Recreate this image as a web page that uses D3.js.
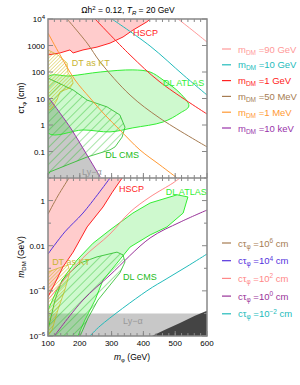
<!DOCTYPE html>
<html>
<head>
<meta charset="utf-8">
<script src="https://cdn.jsdelivr.net/npm/d3@7"></script>
<style>
body { margin: 0; background: #fff; }
svg { display: block; font-family: "Liberation Sans", Arial, sans-serif; }
</style>
</head>
<body>
<div id="chart"></div>
<script>
// ---- data (m_phi in GeV, c tau in cm, m_DM in GeV) ----
const mDMLabels = ["90 GeV", "10 GeV", "1 GeV", "50 MeV", "1 MeV", "10 keV"];
const mDMCurves = [
    [[509, 1e4], [560, 3300], [600, 1350]],
    [[301, 1e4], [421, 955], [525, 78], [600, 13.5]],
    [[248, 1e4], [358, 440], [452, 42], [600, 2.6]],
    [[160, 1e4], [223, 1230], [264, 240], [358, 13.5], [452, 1.8], [600, 0.15]],
    [[100, 2950], [138, 440], [185, 50], [232, 10.5], [279, 2.4], [326, 0.65], [389, 0.115], [452, 0.031], [506, 0.01]],
    [[100, 11.5], [138, 2.8], [175, 0.65], [219, 0.087], [264, 0.011]]
];
const ctauLabels = ["6", "4", "2", "0", "-2"];
const ctauCurves = [
    [[100, 0.25], [131, 1.6], [166, 10]],
    [[100, 4.3e-3], [153, 0.041], [210, 0.28], [295, 10]],
    [[100, 3.9e-5], [210, 2.9e-3], [295, 0.033], [358, 0.31], [421, 1.45], [493, 6], [515, 10]],
    [[122, 1.1e-6], [210, 3.9e-5], [295, 5e-4], [421, 0.022], [515, 0.11], [600, 0.38]],
    [[232, 1e-6], [264, 2.8e-6], [411, 1e-4], [474, 3.5e-4], [537, 1.2e-3], [600, 4.3e-3]]
];

// top panel regions
const hscpTop = [[100, 440], [138, 525], [169, 680], [179, 525], [210, 680], [254, 870], [295, 1230], [336, 2100], [367, 3800], [411, 7800], [421, 1e4]];
const dtTop = [[100, 680], [131, 440], [160, 220], [163, 91], [175, 59], [179, 38], [169, 25], [138, 18], [128, 8.7], [116, 4.8], [106, 3.7], [100, 3.7]];
const atlasTop = [[100, 65], [169, 71], [264, 100], [367, 120], [421, 100], [462, 50], [515, 16], [543, 5.2], [515, 2.8], [462, 1.3], [367, 0.78], [295, 0.55], [210, 0.65], [100, 0.5]];
const cmsTop = [[100, 59], [179, 21], [223, 8.7], [286, 4.8], [326, 2.4], [342, 0.83], [333, 0.35], [311, 0.15], [295, 0.115], [223, 0.062], [160, 0.031], [106, 0.017], [100, 0.013]];

// bottom panel regions
const hscpBot = [[100, 5.4e-5], [122, 2.2e-4], [147, 1.15e-3], [179, 5.2e-3], [223, 0.068], [273, 0.52], [301, 2.2], [333, 10]];
const atlasBot = [[100, 1.4e-5], [128, 1.1e-4], [160, 6.2e-4], [191, 2.3e-3], [242, 0.013], [295, 0.05], [367, 0.28], [421, 0.78], [506, 1.8], [540, 1.45],
    [525, 0.28], [474, 0.068], [421, 0.03], [358, 8.7e-3], [317, 1.7e-3], [273, 3e-4], [248, 3.9e-5], [216, 5.1e-6], [194, 1e-6], [100, 1e-6]];
const cmsBot = [[100, 1.9e-6], [122, 3.9e-5], [144, 3e-4], [201, 1.7e-3], [254, 3.2e-3], [317, 5.2e-3], [336, 3.9e-3], [342, 1.9e-3], [326, 6.2e-4],
    [295, 1.8e-4], [257, 3.9e-5], [226, 6.3e-6], [201, 1e-6], [100, 1e-6]];
const dtBot = [[100, 6.9e-4], [131, 1e-3], [163, 1.4e-3], [169, 6.9e-4], [153, 1.1e-4], [131, 1.4e-5], [113, 1.9e-6], [100, 1e-6]];
const lyaBot = [[100, 1e-6], [100, 1e-5], [600, 1e-5], [600, 1e-6]];
const darkBot = [[427, 1e-6], [468, 1.9e-6], [515, 3.8e-6], [562, 7.8e-6], [600, 1.3e-5], [600, 1e-6]];

const xTicks = [100, 200, 300, 400, 500, 600];
const topTicks = [1e4, 1e3, 1e2, 10, 1, 0.1];
const botTicks = [1, 1e-2, 1e-4, 1e-6];

// ---- styles ----
const mDMColors = ["#ff9999", "#22bbbb", "#ff2222", "#a67c52", "#ff9933", "#9933aa"];
const ctauColors = ["#a67c52", "#5533dd", "#ff8888", "#993399", "#22bbbb"];
const green = "#33ee33";

const width = 300, height = 385;
const svg = d3.select("#chart").append("svg").attr("width", width).attr("height", height);

const x = d3.scaleLinear().domain([100, 600]).range([48, 207]);
const yTop = d3.scaleLog().domain([1e-2, 1e4]).range([178, 19]);
const yBot = d3.scaleLog().domain([1e-6, 10]).range([336, 178]);

const defs = svg.append("defs");
function hatch(id, color, gap, sw) {
    defs.append("pattern").attr("id", id)
        .attr("patternUnits", "userSpaceOnUse")
        .attr("width", gap).attr("height", gap)
        .attr("patternTransform", "rotate(45)")
        .append("line")
        .attr("x1", 0).attr("y1", 0).attr("x2", 0).attr("y2", gap)
        .attr("stroke", color).attr("stroke-width", sw);
}
hatch("hCMS", "#22bb22", 6, 0.8);
hatch("hDT", "#c8b400", 2.5, 0.8);

defs.append("clipPath").attr("id", "clipTop").append("rect")
    .attr("x", 48).attr("y", 19).attr("width", 159).attr("height", 159);
defs.append("clipPath").attr("id", "clipBot").append("rect")
    .attr("x", 48).attr("y", 178).attr("width", 159).attr("height", 158);

function drawPanel(y, clipId) {
    const g = svg.append("g").attr("clip-path", `url(#${clipId})`);
    const line = d3.line().x(d => x(d[0])).y(d => y(d[1])).curve(d3.curveCatmullRom);
    const area = d3.line().x(d => x(d[0])).y(d => y(d[1])).curve(d3.curveLinearClosed);
    const poly = d3.line().x(d => x(d[0])).y(d => y(d[1]));
    return { g, line, area, poly };
}

// ---- top panel ----
const pTop = drawPanel(yTop, "clipTop");
pTop.g.append("path").datum(hscpTop.concat([[100, 1e4]]))
    .attr("d", pTop.area).attr("fill", "#ffcccc");
pTop.g.append("path").datum(hscpTop).attr("d", pTop.poly)
    .attr("fill", "none").attr("stroke", "#ff2222").attr("stroke-width", 1);
// Ly-alpha below the 10 keV curve
pTop.g.append("path").datum(mDMCurves[5].concat([[100, 1e-2]]))
    .attr("d", pTop.area).attr("fill", "#c8c8c8");
pTop.g.append("path").datum(atlasTop).attr("d", d3.line().x(d => x(d[0])).y(d => yTop(d[1])).curve(d3.curveCatmullRomClosed))
    .attr("fill", "rgba(60,230,60,0.25)").attr("stroke", green).attr("stroke-width", 1);
pTop.g.append("path").datum(cmsTop).attr("d", pTop.area)
    .attr("fill", "url(#hCMS)").attr("stroke", "#22bb22").attr("stroke-width", 0.8);
pTop.g.append("path").datum(dtTop).attr("d", pTop.area)
    .attr("fill", "url(#hDT)").attr("stroke", "#c8b400").attr("stroke-width", 0.6);
pTop.g.selectAll(".mdm").data(mDMCurves).enter().append("path")
    .attr("d", pTop.line).attr("fill", "none")
    .attr("stroke", (d, i) => mDMColors[i]).attr("stroke-width", 1);

// ---- bottom panel ----
const pBot = drawPanel(yBot, "clipBot");
pBot.g.append("path").datum(hscpBot.concat([[100, 10]]))
    .attr("d", pBot.area).attr("fill", "#ffcccc");
pBot.g.append("path").datum(lyaBot).attr("d", pBot.area).attr("fill", "#c8c8c8");
pBot.g.append("path").datum(darkBot).attr("d", pBot.area).attr("fill", "#444");
pBot.g.append("path").datum(atlasBot).attr("d", pBot.area)
    .attr("fill", "rgba(60,230,60,0.25)").attr("stroke", green).attr("stroke-width", 1);
pBot.g.append("path").datum(cmsBot).attr("d", pBot.area)
    .attr("fill", "url(#hCMS)").attr("stroke", "#22bb22").attr("stroke-width", 0.8);
pBot.g.append("path").datum(dtBot).attr("d", pBot.area)
    .attr("fill", "url(#hDT)").attr("stroke", "#c8b400").attr("stroke-width", 0.6);
pBot.g.append("path").datum(hscpBot).attr("d", pBot.poly)
    .attr("fill", "none").attr("stroke", "#ff2222").attr("stroke-width", 1);
pBot.g.selectAll(".ct").data(ctauCurves).enter().append("path")
    .attr("d", pBot.line).attr("fill", "none")
    .attr("stroke", (d, i) => ctauColors[i]).attr("stroke-width", 1);

// ---- region labels ----
function label(xv, yv, txt, color) {
    svg.append("text").attr("x", xv).attr("y", yv).attr("font-size", 9)
        .attr("fill", color).text(txt);
}
label(x(367), yTop(2300), "HSCP", "#ff2222");
label(x(175), yTop(170), "DT as KT", "#c8b430");
label(x(462), yTop(30), "DL ATLAS", green);
label(x(280), yTop(0.055), "DL CMS", "#22bb22");
label(x(207), yTop(0.0135), "Ly\u2212\u03b1", "#999");
label(x(323), yBot(2.5), "HSCP", "#ff2222");
label(x(470), yBot(1.8), "DL ATLAS", green);
label(x(336), yBot(3e-4), "DL CMS", "#22bb22");
label(x(113), yBot(1.4e-3), "DT as KT", "#c8b430");
label(x(336), yBot(3.5e-6), "Ly\u2212\u03b1", "#999");

// ---- frame and axes ----
const frame = "#888";
function logLabel(t, v) {
    const e = Math.round(Math.log10(v));
    if (e === 4 || e <= -3) {
        t.text("10");
        t.append("tspan").attr("dy", -3.5).attr("font-size", 6).text(e < 0 ? "\u2212" + (-e) : e);
    } else {
        t.text(d3.format("~g")(v));
    }
}
function yAxis(y, ticks, minor) {
    const g = svg.append("g");
    minor.forEach(v => {
        g.append("line").attr("x1", 48).attr("x2", 51).attr("y1", y(v)).attr("y2", y(v)).attr("stroke", frame);
        g.append("line").attr("x1", 207).attr("x2", 204).attr("y1", y(v)).attr("y2", y(v)).attr("stroke", frame);
    });
    ticks.forEach(v => {
        g.append("line").attr("x1", 48).attr("x2", 53).attr("y1", y(v)).attr("y2", y(v)).attr("stroke", frame);
        g.append("line").attr("x1", 207).attr("x2", 202).attr("y1", y(v)).attr("y2", y(v)).attr("stroke", frame);
        const t = g.append("text").attr("x", 45).attr("y", y(v) + 3).attr("text-anchor", "end")
            .attr("font-size", 8);
        logLabel(t, v);
    });
}
yAxis(yTop, topTicks, []);
yAxis(yBot, botTicks, [10, 0.1, 1e-3, 1e-5]);

const xMinor = d3.range(120, 600, 20);
[178, 336].forEach(yy => {
    xMinor.forEach(v => {
        svg.append("line").attr("x1", x(v)).attr("x2", x(v)).attr("y1", yy).attr("y2", yy - 3).attr("stroke", frame);
    });
    xTicks.forEach(v => {
        svg.append("line").attr("x1", x(v)).attr("x2", x(v)).attr("y1", yy).attr("y2", yy - 5).attr("stroke", frame);
    });
});
[19, 178].forEach(yy => {
    xMinor.forEach(v => {
        svg.append("line").attr("x1", x(v)).attr("x2", x(v)).attr("y1", yy).attr("y2", yy + 3).attr("stroke", frame);
    });
});
svg.selectAll(".xl").data(xTicks).enter().append("text")
    .attr("x", d => x(d)).attr("y", 346).attr("text-anchor", "middle").attr("font-size", 8)
    .text(d => d);

svg.append("rect").attr("x", 48).attr("y", 19).attr("width", 159).attr("height", 317)
    .attr("fill", "none").attr("stroke", frame).attr("stroke-width", 1.5);
svg.append("line").attr("x1", 48).attr("x2", 207).attr("y1", 178).attr("y2", 178)
    .attr("stroke", frame).attr("stroke-width", 1.5);

// ---- titles ----
const title = svg.append("text").attr("x", 128).attr("y", 13).attr("text-anchor", "middle").attr("font-size", 8.5);
title.append("tspan").text("\u03a9h");
title.append("tspan").attr("dy", -3).attr("font-size", 6).text("2");
title.append("tspan").attr("dy", 3).text(" = 0.12, ");
title.append("tspan").attr("font-style", "italic").text("T");
title.append("tspan").attr("dy", 2).attr("font-size", 6).attr("font-style", "italic").text("R");
title.append("tspan").attr("dy", -2).text(" = 20 GeV");

const xl = svg.append("text").attr("x", 132).attr("y", 360).attr("text-anchor", "middle").attr("font-size", 8.5);
xl.append("tspan").attr("font-style", "italic").text("m");
xl.append("tspan").attr("dy", 2).attr("font-size", 6).text("\u03c6");
xl.append("tspan").attr("dy", -2).text(" (GeV)");

const yl1 = svg.append("text").attr("transform", "translate(24,98) rotate(-90)").attr("text-anchor", "middle").attr("font-size", 8.5);
yl1.append("tspan").text("c\u03c4");
yl1.append("tspan").attr("dy", 2).attr("font-size", 6).text("\u03c6");
yl1.append("tspan").attr("dy", -2).text(" (cm)");

const yl2 = svg.append("text").attr("transform", "translate(24,257) rotate(-90)").attr("text-anchor", "middle").attr("font-size", 8.5);
yl2.append("tspan").attr("font-style", "italic").text("m");
yl2.append("tspan").attr("dy", 2).attr("font-size", 6).text("DM");
yl2.append("tspan").attr("dy", -2).text(" (GeV)");

// ---- legends ----
const leg1 = svg.append("g");
mDMLabels.forEach((lab, i) => {
    const yy = 49 + i * 15.8;
    leg1.append("line").attr("x1", 222).attr("x2", 231).attr("y1", yy).attr("y2", yy)
        .attr("stroke", mDMColors[i]).attr("stroke-width", 1.2);
    const t = leg1.append("text").attr("x", 238).attr("y", yy + 3.5).attr("font-size", 9.5).attr("fill", mDMColors[i]);
    t.append("tspan").text("m");
    t.append("tspan").attr("dy", 2).attr("font-size", 6.5).text("DM");
    t.append("tspan").attr("dy", -2).text(" =" + lab);
});
const leg2 = svg.append("g");
ctauLabels.forEach((lab, i) => {
    const yy = 243 + i * 17.7;
    leg2.append("line").attr("x1", 222).attr("x2", 231).attr("y1", yy).attr("y2", yy)
        .attr("stroke", ctauColors[i]).attr("stroke-width", 1.2);
    const t = leg2.append("text").attr("x", 238).attr("y", yy + 3.5).attr("font-size", 9.5).attr("fill", ctauColors[i]);
    t.append("tspan").text("c\u03c4");
    t.append("tspan").attr("dy", 2).attr("font-size", 6.5).text("\u03c6");
    t.append("tspan").attr("dy", -2).text(" =10");
    t.append("tspan").attr("dy", -3.5).attr("font-size", 6.5).text(lab.replace("-", "\u2212"));
    t.append("tspan").attr("dy", 3.5).text(" cm");
});
</script>
</body>
</html>
